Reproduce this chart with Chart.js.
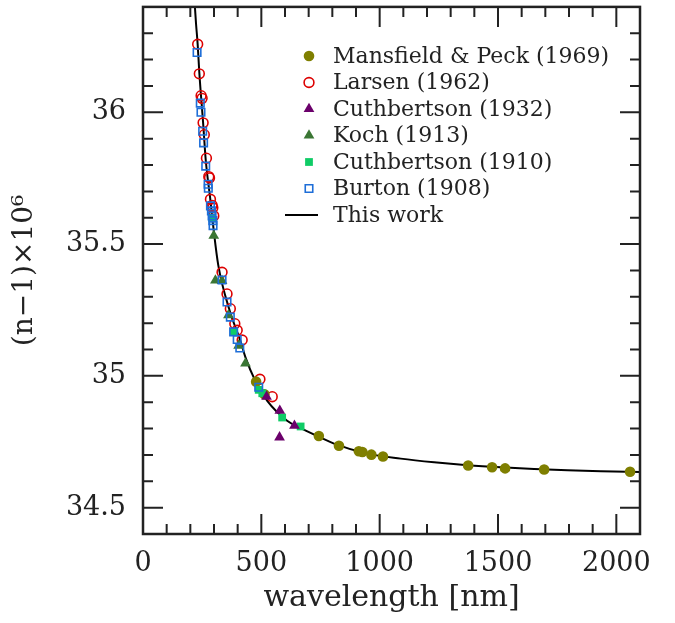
<!DOCTYPE html>
<html>
<head>
<meta charset="utf-8">
<script src="https://cdn.jsdelivr.net/npm/chart.js@4.4.1/dist/chart.umd.min.js"></script>
<style>
  html, body { margin: 0; padding: 0; background: #ffffff; }
  canvas { display: block; }
</style>
</head>
<body>
<canvas id="chart" width="675" height="623"></canvas>
<script>
// Wavelength in nm, refractivity as (n-1)×10^6

const mansfieldLam = [478, 513, 743, 828, 912, 927, 965, 1014, 1374, 1475, 1530, 1695, 2058];
const mansfieldVal = [34.978, 34.930, 34.772, 34.735, 34.714, 34.711, 34.701, 34.694, 34.660, 34.653, 34.649, 34.645, 34.636];

const larsenLam = [231, 238, 245.5, 249.7, 254, 259, 268, 278, 281, 285, 292, 295, 299, 334, 355, 369, 388, 398, 419, 494, 546];
const larsenVal = [36.258, 36.146, 36.063, 36.053, 35.960, 35.915, 35.826, 35.756, 35.751, 35.670, 35.647, 35.638, 35.607, 35.393, 35.311, 35.255, 35.198, 35.173, 35.136, 34.987, 34.921];

const cuth1932Lam = [522, 578, 640, 577];
const cuth1932Val = [34.921, 34.868, 34.811, 34.767];

const kochLam = [299, 306, 334, 361, 404, 433];
const kochVal = [35.532, 35.362, 35.360, 35.230, 35.115, 35.047];

const cuth1910Lam = [292, 383, 489, 504, 588, 666];
const cuth1910Val = [35.600, 35.167, 34.947, 34.934, 34.842, 34.808];

const burtonLam = [228.5, 242, 245, 252, 256, 265, 275, 276, 285, 289, 292, 295, 296, 334, 355, 369, 383, 398, 409, 489];
const burtonVal = [36.227, 36.035, 36.000, 35.928, 35.884, 35.796, 35.727, 35.712, 35.645, 35.626, 35.607, 35.589, 35.570, 35.364, 35.280, 35.223, 35.167, 35.138, 35.106, 34.957];

const workLam = [212, 224, 231, 238, 254, 265, 285, 299, 318, 367, 412, 433, 475, 525, 609, 666, 736, 807, 948, 1089, 1230, 1371, 1512, 1653, 1794, 1935, 2100];
const workVal = [36.50, 36.337, 36.258, 36.15, 35.96, 35.82, 35.665, 35.55, 35.42, 35.245, 35.132, 35.07, 34.98, 34.905, 34.83, 34.802, 34.772, 34.743, 34.705, 34.686, 34.672, 34.661, 34.653, 34.647, 34.642, 34.638, 34.635];

const seriesNames = ['Mansfield & Peck (1969)', 'Larsen (1962)', 'Cuthbertson (1932)', 'Koch (1913)', 'Cuthbertson (1910)', 'Burton (1908)', 'This work'];

const xRange = [0, 2100];
const yRange = [34.4, 36.4];
const xTickLabels = [0, 500, 1000, 1500, 2000];
const yTickLabels = [34.5, 35, 35.5, 36];
const xMinorStep = 100;
const yMinorStep = 0.1;

const pts = (lam, val) => lam.map((l, i) => ({ x: l, y: val[i] }));

const FONT = "'DejaVu Serif', serif";
const INK = '#222222';

const datasets = [
  { label: seriesNames[0], data: pts(mansfieldLam, mansfieldVal), pointStyle: 'circle', pointRadius: 5.3,
    backgroundColor: '#7f7f00', borderColor: '#7f7f00', borderWidth: 0, showLine: false, order: 5 },
  { label: seriesNames[1], data: pts(larsenLam, larsenVal), pointStyle: 'circle', pointRadius: 4.9,
    backgroundColor: 'rgba(0,0,0,0)', borderColor: '#dd0000', borderWidth: 1.6, showLine: false, order: 6 },
  { label: seriesNames[2], data: pts(cuth1932Lam, cuth1932Val), pointStyle: 'triangle', pointRadius: 6.2,
    backgroundColor: '#6b006b', borderColor: '#6b006b', borderWidth: 0, showLine: false, order: 2 },
  { label: seriesNames[3], data: pts(kochLam, kochVal), pointStyle: 'triangle', pointRadius: 6.2,
    backgroundColor: '#3a7634', borderColor: '#3a7634', borderWidth: 0, showLine: false, order: 4 },
  { label: seriesNames[4], data: pts(cuth1910Lam, cuth1910Val), pointStyle: 'rect', pointRadius: 5.5,
    backgroundColor: '#0fcc66', borderColor: '#0fcc66', borderWidth: 0, showLine: false, order: 3 },
  { label: seriesNames[5], data: pts(burtonLam, burtonVal), pointStyle: 'rect', pointRadius: 5.3,
    backgroundColor: 'rgba(0,0,0,0)', borderColor: '#1e6ed8', borderWidth: 1.6, showLine: false, order: 1 },
  { label: seriesNames[6], data: pts(workLam, workVal), showLine: true, pointRadius: 0,
    borderColor: '#000000', borderWidth: 2, cubicInterpolationMode: 'monotone', order: 7 }
];

// Box frame with inward major and minor ticks on all four sides
const frameTicks = {
  id: 'frameTicks',
  afterDraw(chart) {
    const { ctx, chartArea: a, scales: { x, y } } = chart;
    ctx.save();
    ctx.strokeStyle = INK;
    ctx.lineCap = 'butt';
    ctx.lineWidth = 2;
    const major = 20, minor = 10;
    const nx = Math.round((xRange[1] - xRange[0]) / xMinorStep);
    for (let i = 0; i <= nx; i++) {
      const v = xRange[0] + i * xMinorStep;
      const len = xTickLabels.includes(v) ? major : minor;
      const px = x.getPixelForValue(v);
      ctx.beginPath();
      ctx.moveTo(px, a.bottom); ctx.lineTo(px, a.bottom - len);
      ctx.moveTo(px, a.top); ctx.lineTo(px, a.top + len);
      ctx.stroke();
    }
    const ny = Math.round((yRange[1] - yRange[0]) / yMinorStep);
    for (let i = 0; i <= ny; i++) {
      const v = Math.round((yRange[0] + i * yMinorStep) * 10) / 10;
      const len = yTickLabels.includes(v) ? major : minor;
      const py = y.getPixelForValue(v);
      ctx.beginPath();
      ctx.moveTo(a.left, py); ctx.lineTo(a.left + len, py);
      ctx.moveTo(a.right, py); ctx.lineTo(a.right - len, py);
      ctx.stroke();
    }
    ctx.lineWidth = 2.5;
    ctx.strokeRect(a.left, a.top, a.right - a.left, a.bottom - a.top);
    ctx.restore();
  }
};

// Legend inside the plot area, upper right
const insideLegend = {
  id: 'insideLegend',
  afterDraw(chart) {
    const { ctx } = chart;
    const symX = 309, textX = 333, top = 56, step = 26.5;
    ctx.save();
    ctx.font = "22px " + FONT;
    ctx.textBaseline = 'middle';
    ctx.textAlign = 'left';
    chart.data.datasets.forEach((ds, i) => {
      const yy = top + i * step;
      if (ds.showLine) {
        ctx.strokeStyle = ds.borderColor;
        ctx.lineWidth = 2;
        ctx.beginPath();
        ctx.moveTo(285, yy); ctx.lineTo(318, yy);
        ctx.stroke();
      } else {
        ctx.fillStyle = ds.backgroundColor;
        ctx.strokeStyle = ds.borderColor;
        ctx.lineWidth = ds.borderWidth;
        Chart.helpers.drawPoint(ctx, {
          pointStyle: ds.pointStyle,
          radius: ds.pointRadius,
          borderWidth: ds.borderWidth,
          rotation: 0
        }, symX, yy);
      }
      ctx.fillStyle = INK;
      ctx.fillText(ds.label, textX, yy + 1);
    });
    ctx.restore();
  }
};

new Chart(document.getElementById('chart'), {
  type: 'scatter',
  data: { datasets },
  options: {
    responsive: false,
    animation: false,
    layout: { padding: { top: 3, right: 35, left: 0, bottom: 0 } },
    plugins: { legend: { display: false }, tooltip: { enabled: false } },
    scales: {
      x: {
        type: 'linear', min: xRange[0], max: xRange[1],
        afterBuildTicks: s => { s.ticks = xTickLabels.map(v => ({ value: v })); },
        afterFit: s => { s.height = 89; s.paddingLeft = 0; s.paddingRight = 0; },
        grid: { display: false, drawTicks: false },
        border: { display: false },
        ticks: { color: INK, font: { family: FONT, size: 27 }, padding: 14, maxRotation: 0,
                 callback: v => String(v) },
        title: { display: true, text: 'wavelength [nm]', color: INK,
                 font: { family: FONT, size: 30 }, padding: { top: 0, bottom: 7 } }
      },
      y: {
        type: 'linear', min: yRange[0], max: yRange[1],
        afterBuildTicks: s => { s.ticks = yTickLabels.map(v => ({ value: v })); },
        afterFit: s => { s.width = 143; s.paddingTop = 0; s.paddingBottom = 0; },
        grid: { display: false, drawTicks: false },
        border: { display: false },
        ticks: { color: INK, font: { family: FONT, size: 27 }, padding: 17,
                 callback: v => String(v) },
        title: { display: true, text: '(n\u22121)\u00d710\u2076', color: INK,
                 font: { family: FONT, size: 28 }, padding: { top: 8, bottom: 0 } }
      }
    }
  },
  plugins: [frameTicks, insideLegend]
});
</script>
</body>
</html>
